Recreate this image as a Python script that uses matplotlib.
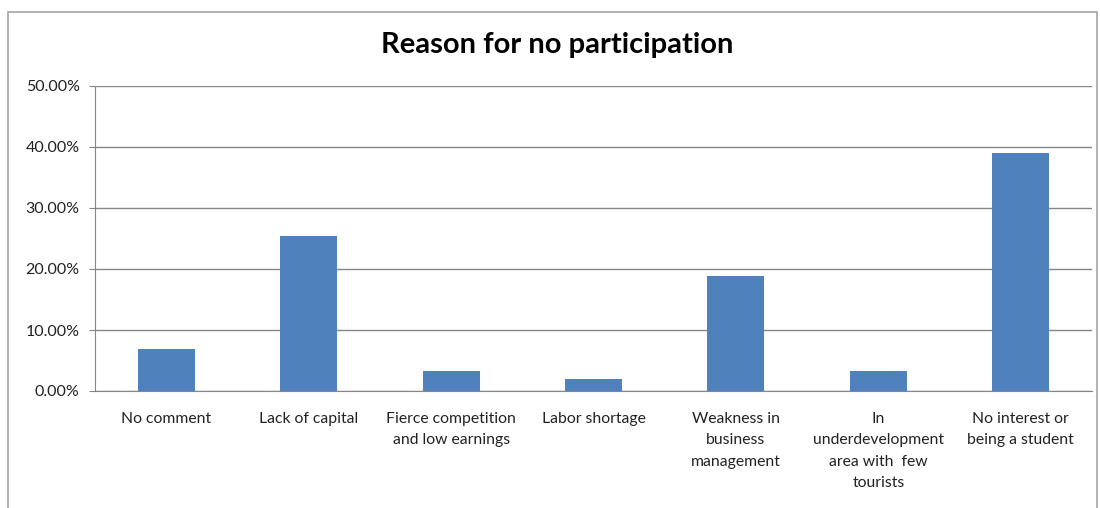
import matplotlib.pyplot as plt
from matplotlib.patches import Rectangle
from matplotlib.ticker import PercentFormatter

plt.rcParams['font.family'] = ['Lato', 'DejaVu Sans']

# reasons and share of respondents (%)
reasons = [
    'No comment',
    'Lack of capital',
    'Fierce competition\nand low earnings',
    'Labor shortage',
    'Weakness in\nbusiness\nmanagement',
    'In\nunderdevelopment\narea with  few\ntourists',
    'No interest or\nbeing a student',
]
shares = [6.9, 25.4, 3.3, 2.0, 18.9, 3.3, 39.0]
y_ticks = [0, 10, 20, 30, 40, 50]

W, H = 1100, 508
fig = plt.figure(figsize=(W / 100, H / 100), dpi=100)

# outer chart frame
fig.patches.append(Rectangle((8 / W, -0.1), (1097 - 8) / W, 1.1 - 12 / H,
                             transform=fig.transFigure, fill=False,
                             edgecolor='#a6a6a6', linewidth=1.2))

ax = fig.add_axes([95 / W, (H - 391) / H, (1092 - 95) / W, (391 - 86) / H])

x = range(len(reasons))
ax.bar(x, shares, width=0.4, color='#4f81bd', zorder=3)

ax.set_xlim(-0.5, len(reasons) - 0.5)
ax.set_ylim(0, 50)
ax.set_yticks(y_ticks)
ax.yaxis.set_major_formatter(PercentFormatter(decimals=2))
ax.set_xticks(list(x))
ax.set_xticklabels(reasons, fontsize=11.3, linespacing=1.68, color='#222222',
                   va='top')

ax.grid(axis='y', color='#868686', linewidth=1, zorder=0)
for side in ('top', 'right'):
    ax.spines[side].set_visible(False)
ax.spines['left'].set_color('#868686')
ax.spines['bottom'].set_color('#868686')
ax.tick_params(axis='y', length=4, color='#868686', labelsize=11.5,
               labelcolor='#222222', pad=7)
ax.tick_params(axis='x', length=0, pad=15)

fig.text(557 / W, (H - 45) / H, 'Reason for no participation',
         ha='center', va='center', fontsize=21, fontweight='bold')

fig.savefig('out.png', dpi=100)
